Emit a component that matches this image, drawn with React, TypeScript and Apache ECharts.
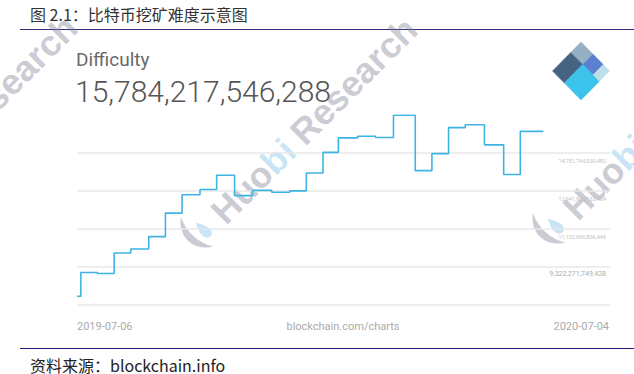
import React, { useEffect, useRef } from "react";
import * as echarts from "echarts";

// ---- data ----
const dates = [
  "2019-07-06", "2019-07-09", "2019-07-22", "2019-08-04", "2019-08-17", "2019-08-31",
  "2019-09-13", "2019-09-26", "2019-10-10", "2019-10-23", "2019-11-06", "2019-11-20",
  "2019-12-05", "2019-12-19", "2020-01-01", "2020-01-14", "2020-01-26", "2020-02-10",
  "2020-02-24", "2020-03-09", "2020-03-26", "2020-04-08", "2020-04-21", "2020-05-04",
  "2020-05-19", "2020-06-03", "2020-06-16", "2020-07-04",
];
const difficulty = [
  7.93e12, 9.06e12, 9.01e12, 9.99e12, 10.18e12, 10.77e12,
  11.89e12, 12.76e12, 13.01e12, 13.69e12, 12.72e12, 12.97e12,
  12.88e12, 12.95e12, 13.80e12, 14.78e12, 15.47e12, 15.55e12,
  15.49e12, 16.55e12, 13.91e12, 14.72e12, 15.96e12, 16.10e12,
  15.14e12, 13.73e12, 15.784e12, 15.784e12,
];
const yBase = 7512447392410;
const yStep = 1809824357018;
const yTickLabels = ["", "9,322,271,749,428", "11,132,096,806,446", "12,941,920,163,464", "14,751,744,520,482", ""];
const xMin = "2019-07-06";
const xMax = "2020-08-25";
const xEdgeLabels = ["2019-07-06", "2020-07-04"];
const sourceCaption = "blockchain.com/charts";
const metricName = "Difficulty";
const headline = "15,784,217,546,288";
const titleText = "图 2.1：比特币挖矿难度示意图";
const footerText = "资料来源：blockchain.info";

echarts.graphic.registerShape(
  "hbGray",
  echarts.graphic.extendPath("M12,0 C-2,10 -5,30 14,42 C6,30 5,14 12,0 Z", {})
);
echarts.graphic.registerShape(
  "hbBlue",
  echarts.graphic.extendPath("M18,14 C14,22 12,28 16,32 C20,35 25,31 23,25 C22,21 20,17 18,14 Z", {})
);

function watermark(x: number, y: number) {
  const gray = "rgba(130,130,150,0.42)";
  const blue = "rgba(110,185,230,0.38)";
  return {
    type: "group",
    x,
    y,
    rotation: Math.PI / 4,
    z: 100,
    silent: true,
    children: [
      { type: "hbGray", x: -38, y: -44, scaleX: 1.05, scaleY: 1.05, style: { fill: gray } },
      { type: "hbBlue", x: -38, y: -44, scaleX: 1.05, scaleY: 1.05, style: { fill: blue } },
      {
        type: "text",
        x: 0,
        y: 0,
        style: {
          text: "{g|Huo}{b|bi}{g| Research}",
          verticalAlign: "bottom",
          textVerticalAlign: "bottom",
          rich: {
            g: { fill: gray, fontSize: 36, fontWeight: "bold", fontFamily: "Liberation Sans" },
            b: { fill: blue, fontSize: 36, fontWeight: "bold", fontFamily: "Liberation Sans" },
          },
        },
      },
    ],
  };
}

function logo() {
  const T = [581, 42];
  const R = [609.5, 71];
  const L = [552.5, 71];
  const a = 0.418, b = 0.361, c = 0.78;
  const P = (p: number, q: number) => [
    T[0] + p * (R[0] - T[0]) + q * (L[0] - T[0]),
    T[1] + p * (R[1] - T[1]) + q * (L[1] - T[1]),
  ];
  const piece = (pts: number[][], fill: string) => ({
    type: "polygon",
    shape: { points: pts },
    style: { fill, stroke: fill, lineWidth: 0.5, lineJoin: "round" },
  });
  return [
    piece([P(0, 0), P(a, 0), P(a, b), P(0, b)], "#94b0c3"),
    piece([P(a, 0), P(c, 0), P(c, b), P(a, b)], "#5b7fd1"),
    piece([P(c, 0), P(1, 0), P(1, b), P(c, b)], "#bddeea"),
    piece([P(0, b), P(a, b), P(a, 1), P(0, 1)], "#466482"),
    piece([P(a, b), P(1, b), P(1, 1), P(a, 1)], "#3cc3eb"),
  ];
}

export default function App() {
  const ref = useRef<HTMLDivElement>(null);
  useEffect(() => {
    if (!ref.current) return;
    const chart = echarts.init(ref.current, undefined, { renderer: "svg" });
    const lineColors = ["#e9e9e9", "#e9e9e9", "#e9e9e9", "#e9e9e9", "#e9e9e9", "rgba(0,0,0,0)"];
    chart.setOption({
      animation: false,
      backgroundColor: "#ffffff",
      grid: { left: 77, right: 24, top: 115, bottom: 69 },
      xAxis: {
        type: "time",
        min: xMin,
        max: xMax,
        show: false,
      },
      yAxis: {
        type: "value",
        position: "right",
        min: yBase,
        max: yBase + yStep * 5,
        interval: yStep,
        axisLine: { show: false },
        axisTick: { show: false },
        splitLine: { show: true, lineStyle: { color: lineColors, width: 1.5 } },
        axisLabel: {
          inside: true,
          margin: 4,
          verticalAlign: "top",
          formatter: (v: number) => {
            const k = Math.round((v - yBase) / yStep);
            const t = yTickLabels[k] || "";
            if (!t) return "";
            return k === 1 ? `{l|${t}}` : `{s|${t}}`;
          },
          rich: {
            s: { fontSize: 5.5, color: "#c0c0c0", fontFamily: "Roboto", padding: [4.5, 0, 0, 0] },
            l: { fontSize: 7, color: "#acacac", fontFamily: "Roboto", padding: [3.5, 0, 0, 0] },
          },
        },
      },
      series: [
        {
          type: "line",
          step: "end",
          symbol: "none",
          data: dates.map((d, i) => [d, difficulty[i]]),
          lineStyle: { color: "#3db4e4", width: 1.6 },
          z: 3,
        },
      ],
      graphic: [
        {
          type: "text",
          x: 30,
          y: 14,
          style: {
            text: titleText,
            fill: "#333333",
            font: "16px 'Noto Sans CJK SC'",
            verticalAlign: "middle",
            textVerticalAlign: "middle",
          },
        },
        { type: "line", shape: { x1: 20, y1: 29.5, x2: 634, y2: 29.5 }, style: { stroke: "#2e2e80", lineWidth: 1.2 } },
        {
          type: "text",
          x: 76,
          y: 59,
          style: {
            text: metricName,
            fill: "#6a6a6a",
            font: "19px Roboto",
            verticalAlign: "middle",
            textVerticalAlign: "middle",
          },
        },
        {
          type: "text",
          x: 75,
          y: 91,
          style: {
            text: headline,
            fill: "#555555",
            font: "300 30px Roboto",
            verticalAlign: "middle",
            textVerticalAlign: "middle",
          },
        },
        ...logo(),
        {
          type: "text",
          x: 77,
          y: 326,
          style: { text: xEdgeLabels[0], fill: "#ababab", font: "11px Roboto", align: "left", textAlign: "left", verticalAlign: "middle", textVerticalAlign: "middle" },
        },
        {
          type: "text",
          x: 343,
          y: 326,
          style: { text: sourceCaption, fill: "#ababab", font: "11px Roboto", align: "center", textAlign: "center", verticalAlign: "middle", textVerticalAlign: "middle" },
        },
        {
          type: "text",
          x: 609,
          y: 326,
          style: { text: xEdgeLabels[1], fill: "#ababab", font: "11px Roboto", align: "right", textAlign: "right", verticalAlign: "middle", textVerticalAlign: "middle" },
        },
        { type: "line", shape: { x1: 20, y1: 348.5, x2: 634, y2: 348.5 }, style: { stroke: "#1e1e7a", lineWidth: 1.2 } },
        {
          type: "text",
          x: 30,
          y: 365,
          style: {
            text: footerText,
            fill: "#222222",
            font: "16px 'Noto Sans CJK SC'",
            verticalAlign: "middle",
            textVerticalAlign: "middle",
          },
        },
        watermark(-110, 228),
        watermark(230, 230),
        watermark(582, 226),
      ],
    });
    return () => chart.dispose();
  }, []);
  return <div ref={ref} style={{ position: "fixed", left: 0, top: 0, width: 634, height: 374 }} />;
}
